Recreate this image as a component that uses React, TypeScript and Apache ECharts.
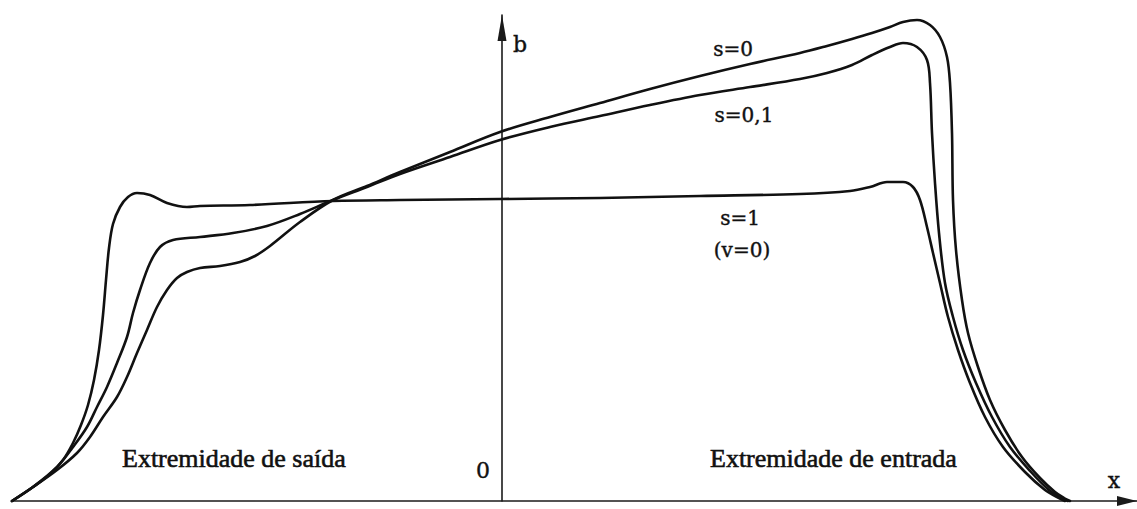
import React, { useEffect, useRef } from "react";
import * as echarts from "echarts";

// Width distribution b(x) along the contact zone; x and b in the drawing's own units.
// Each curve is a list of [x, b] pairs, left (exit end) to right (entry end).
const curveS0: [number, number][] = [
  [-4.9, 0.0], [-4.69, 0.14], [-4.45, 0.31], [-4.25, 0.48], [-4.12, 0.64], [-3.99, 0.84],
  [-3.85, 1.04], [-3.75, 1.24], [-3.65, 1.48], [-3.55, 1.71], [-3.45, 1.94], [-3.35, 2.11],
  [-3.25, 2.23], [-3.15, 2.29], [-3.02, 2.33], [-2.82, 2.35], [-2.62, 2.39], [-2.47, 2.45],
  [-2.32, 2.55], [-2.02, 2.79], [-1.69, 3.01], [-1.35, 3.15], [-1.02, 3.29], [-0.52, 3.49],
  [-0.02, 3.69], [0.48, 3.84], [0.98, 3.98], [1.48, 4.12], [1.98, 4.25], [2.48, 4.37],
  [2.98, 4.48], [3.25, 4.55], [3.5, 4.62], [3.7, 4.68], [3.88, 4.74], [4.01, 4.79],
  [4.15, 4.81], [4.28, 4.76], [4.38, 4.64], [4.45, 4.44], [4.48, 4.18], [4.5, 3.68],
  [4.51, 3.01], [4.54, 2.51], [4.6, 2.01], [4.66, 1.68], [4.76, 1.34], [4.88, 1.01],
  [5.03, 0.71], [5.2, 0.44], [5.38, 0.23], [5.53, 0.09], [5.62, 0.03], [5.68, 0.0],
];

const curveS01: [number, number][] = [
  [-4.9, 0.0], [-4.69, 0.14], [-4.45, 0.34], [-4.29, 0.54], [-4.15, 0.74], [-4.05, 0.94],
  [-3.95, 1.14], [-3.85, 1.38], [-3.75, 1.64], [-3.69, 1.88], [-3.62, 2.11], [-3.52, 2.38],
  [-3.42, 2.54], [-3.29, 2.61], [-3.02, 2.64], [-2.69, 2.68], [-2.35, 2.75], [-2.02, 2.87],
  [-1.69, 3.01], [-1.35, 3.14], [-1.02, 3.27], [-0.52, 3.44], [-0.02, 3.61], [0.48, 3.74],
  [0.98, 3.85], [1.48, 3.96], [1.98, 4.06], [2.48, 4.14], [2.98, 4.22], [3.25, 4.28],
  [3.5, 4.36], [3.7, 4.46], [3.88, 4.54], [4.01, 4.58], [4.15, 4.54], [4.25, 4.41],
  [4.28, 4.18], [4.3, 3.68], [4.33, 3.18], [4.37, 2.68], [4.43, 2.18], [4.51, 1.84],
  [4.61, 1.51], [4.74, 1.18], [4.9, 0.84], [5.08, 0.54], [5.29, 0.29], [5.47, 0.11],
  [5.58, 0.04], [5.66, 0.0],
];

const curveS1: [number, number][] = [
  [-4.9, 0.0], [-4.69, 0.14], [-4.52, 0.27], [-4.39, 0.41], [-4.29, 0.58], [-4.21, 0.76],
  [-4.14, 0.96], [-4.08, 1.21], [-4.03, 1.51], [-3.99, 1.86], [-3.96, 2.21], [-3.93, 2.53],
  [-3.89, 2.77], [-3.82, 2.94], [-3.74, 3.04], [-3.65, 3.08], [-3.52, 3.06], [-3.35, 2.98],
  [-3.15, 2.94], [-3.02, 2.95], [-2.52, 2.96], [-1.69, 3.0], [-1.02, 3.01], [-0.02, 3.02],
  [0.98, 3.03], [1.98, 3.05], [2.98, 3.07], [3.48, 3.1], [3.68, 3.14], [3.85, 3.19],
  [4.01, 3.19], [4.11, 3.14], [4.18, 3.01], [4.25, 2.74], [4.31, 2.48], [4.38, 2.18],
  [4.46, 1.84], [4.56, 1.51], [4.68, 1.18], [4.83, 0.84], [5.01, 0.54], [5.23, 0.29],
  [5.43, 0.11], [5.55, 0.04], [5.63, 0.0],
];

const seriesNames = ["s=0", "s=0,1", "s=1"];
const curveLabels = ["s=0", "s=0,1", "s=1", "(v=0)"];
const axisNames = { x: "x", y: "b", origin: "0" };
const endNames = ["Extremidade de saída", "Extremidade de entrada"];

const X_MIN = -4.9;
const X_MAX = 6.35;
const Y_MIN = 0;
const Y_MAX = 4.86;

const INK = "#111111";
const SMALL_FONT = "'DejaVu Serif', serif";
const BIG_FONT = "'Liberation Serif', 'Times New Roman', serif";

function curveSeries(name: string, data: [number, number][]) {
  return {
    name,
    type: "line" as const,
    data,
    smooth: 0.35,
    showSymbol: false,
    clip: false,
    silent: true,
    lineStyle: { color: INK, width: 2.6, join: "round" as const, cap: "round" as const },
  };
}

function label(
  text: string,
  x: number,
  y: number,
  size: number,
  family: string,
  align = "center",
  weight = 0.4
) {
  return {
    type: "text" as const,
    x,
    y,
    silent: true,
    style: {
      text,
      fill: INK,
      stroke: INK,
      lineWidth: weight,
      font: `${size}px ${family}`,
      textAlign: align,
      textVerticalAlign: "middle",
    },
  };
}

export default function App() {
  const ref = useRef<HTMLDivElement>(null);

  useEffect(() => {
    if (!ref.current) return;
    const chart = echarts.init(ref.current, null, { renderer: "svg" });
    chart.setOption({
      animation: false,
      backgroundColor: "#ffffff",
      grid: { left: 12, right: 0, top: 15, bottom: 8, containLabel: false },
      xAxis: {
        type: "value",
        min: X_MIN,
        max: X_MAX,
        axisLine: {
          show: true,
          onZero: true,
          symbol: ["none", "triangle"],
          symbolSize: [10, 20],
          symbolOffset: [0, -10],
          lineStyle: { color: "#1a1a1a", width: 1.6 },
        },
        axisTick: { show: false },
        axisLabel: { show: false },
        splitLine: { show: false },
      },
      yAxis: {
        type: "value",
        min: Y_MIN,
        max: Y_MAX,
        axisLine: {
          show: true,
          onZero: true,
          symbol: ["none", "triangle"],
          symbolSize: [9, 26],
          symbolOffset: [0, -13],
          lineStyle: { color: "#1a1a1a", width: 1.6 },
        },
        axisTick: { show: false },
        axisLabel: { show: false },
        splitLine: { show: false },
      },
      series: [
        curveSeries(seriesNames[0], curveS0),
        curveSeries(seriesNames[1], curveS01),
        curveSeries(seriesNames[2], curveS1),
      ],
      graphic: [
        label(curveLabels[0], 733, 49, 20, SMALL_FONT),
        label(curveLabels[1], 744, 115, 20, SMALL_FONT),
        label(curveLabels[2], 740, 218, 20, SMALL_FONT),
        label(curveLabels[3], 742, 250, 20, SMALL_FONT),
        label(axisNames.y, 520, 44, 22, SMALL_FONT),
        label(axisNames.origin, 483, 470, 22, SMALL_FONT),
        label(axisNames.x, 1114, 480, 22, SMALL_FONT),
        label(endNames[0], 122, 458, 26, BIG_FONT, "left", 0.6),
        label(endNames[1], 710, 458, 26, BIG_FONT, "left", 0.6),
      ],
    });
    return () => chart.dispose();
  }, []);

  return (
    <div
      ref={ref}
      style={{ position: "fixed", left: 0, top: 0, width: 1137, height: 509, background: "#ffffff" }}
    />
  );
}
